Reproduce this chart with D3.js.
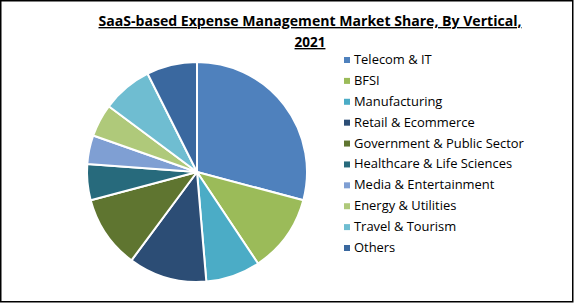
<!DOCTYPE html>
<html>
<head>
<meta charset="utf-8">
<script src="https://cdn.jsdelivr.net/npm/d3@7"></script>
<style>
  body { margin: 0; background: #fff; }
  text { font-family: "Open Sans", "Noto Sans", sans-serif; }
</style>
</head>
<body>
<svg id="mainFrame" width="575" height="304"></svg>
<script>
const svg = d3.select('#mainFrame');
const width = +svg.attr('width');
const height = +svg.attr('height');

// market share by vertical, 2021 (%)
const verticals = ['Telecom & IT', 'BFSI', 'Manufacturing', 'Retail & Ecommerce',
  'Government & Public Sector', 'Healthcare & Life Sciences', 'Media & Entertainment',
  'Energy & Utilities', 'Travel & Tourism', 'Others'];
const shares = [29.1, 11.5, 8.0, 11.5, 10.7, 5.3, 4.2, 4.8, 7.4, 7.4];
const colors = ['#4F81BD', '#9BBB59', '#4BACC6', '#2C4D75', '#5F7530',
  '#276A7C', '#7F9FD3', '#AFC97A', '#6FBDD1', '#3A689F'];

const data = verticals.map((v, i) => ({ name: v, value: shares[i] }));

// outer border
svg.append('rect')
  .attr('x', 0.75).attr('y', 0.75)
  .attr('width', 572).attr('height', 301)
  .attr('fill', 'none')
  .attr('stroke', '#000')
  .attr('stroke-width', 1.5);

// title (two lines, bold + underlined)
const title = svg.append('text')
  .attr('text-anchor', 'middle')
  .attr('font-size', 13.5)
  .attr('font-weight', 'bold')
  .attr('text-decoration', 'underline')
  .attr('fill', '#000');
title.append('tspan').attr('x', 310).attr('y', 26)
  .attr('textLength', 423)
  .attr('lengthAdjust', 'spacingAndGlyphs')
  .text('SaaS-based Expense Management Market Share, By Vertical,');
title.append('tspan').attr('x', 310).attr('y', 47).text('2021');

// pie
const color = d3.scaleOrdinal().domain(verticals).range(colors);
const pie = d3.pie().value(d => d.value).sort(null);
const arc = d3.arc().innerRadius(0).outerRadius(110);

const g = svg.append('g')
  .attr('transform', 'translate(197,172)');

g.selectAll('path').data(pie(data))
  .enter().append('path')
    .attr('d', arc)
    .attr('fill', d => color(d.data.name))
    .attr('stroke', '#fff')
    .attr('stroke-width', 2)
    .attr('stroke-linejoin', 'round');

// legend
const legendY = d3.scalePoint()
  .domain(verticals)
  .range([60, 248]);

const legend = svg.append('g');
const item = legend.selectAll('g').data(verticals)
  .enter().append('g')
    .attr('transform', d => `translate(344,${legendY(d)})`);

item.append('rect')
  .attr('x', 0).attr('y', -3)
  .attr('width', 6).attr('height', 6)
  .attr('fill', d => color(d));

const labels = item.append('text')
  .attr('x', 10)
  .attr('y', 4)
  .attr('font-size', 12)
  .attr('fill', '#000')
  .text(d => d);

// fit font so the longest label spans about 170px like the original
const longest = d3.max(labels.nodes(), n => n.getComputedTextLength());
labels.attr('font-size', 12 * 170 / longest);
</script>
</body>
</html>
